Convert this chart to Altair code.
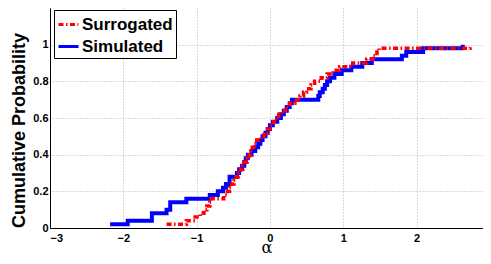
import altair as alt
import pandas as pd

series_names = ["Surrogated", "Simulated"]

surrogated = [
    -1.41, -1.14, -1.02, -0.95, -0.90, -0.86, -0.80, -0.82, -0.63, -0.58,
    -0.55, -0.52, -0.49, -0.46, -0.43, -0.40, -0.37, -0.35, -0.31, -0.28,
    -0.26, -0.24, -0.22, -0.18, -0.12, -0.08, -0.03, 0.00, 0.05, 0.09,
    0.12, 0.16, 0.21, 0.27, 0.34, 0.41, 0.46, 0.50, 0.56, 0.61,
    0.70, 0.78, 0.86, 0.95, 1.13, 1.32, 1.41, 1.46, 1.49, 2.73,
]

simulated = [
    -2.18, -1.94, -1.61, -1.61, -1.41, -1.36, -1.36, -1.14, -0.82, -0.71,
    -0.64, -0.60, -0.55, -0.55, -0.45, -0.42, -0.38, -0.35, -0.33, -0.30,
    -0.25, -0.20, -0.16, -0.13, -0.10, -0.06, -0.03, 0.00, 0.04, 0.10,
    0.15, 0.19, 0.23, 0.27, 0.30, 0.66, 0.68, 0.72, 0.75, 0.78,
    0.82, 0.88, 0.98, 1.11, 1.26, 1.39, 1.80, 1.86, 2.09, 2.63,
]

x_ticks = [-3, -2, -1, 0, 1, 2]
y_ticks = [0, 0.2, 0.4, 0.6, 0.8, 1]

df = pd.DataFrame({
    "alpha": surrogated + simulated,
    "series": ["Surrogated"] * len(surrogated) + ["Simulated"] * len(simulated),
})

color_scale = alt.Scale(domain=series_names, range=["#ff0000", "#0000ff"])
dash_scale = alt.Scale(domain=series_names, range=[[5, 2.5, 1.5, 2.5], [1, 0]])

legend = alt.Legend(
    orient="none", legendX=4, legendY=2, title=None,
    symbolType="stroke", symbolSize=400, symbolStrokeWidth=3,
    labelFontSize=17, labelFontWeight="bold", labelFont="Liberation Sans",
    labelColor="black", labelOffset=2,
    strokeColor="black", fillColor="white", padding=3, rowPadding=2,
)

x_enc = alt.X(
    "alpha:Q",
    scale=alt.Scale(domain=[-3, 2.907], nice=False, zero=False),
    axis=alt.Axis(values=x_ticks, title="α", grid=True, ticks=False,
                  labelPadding=4, titleFontWeight="normal", titleFontSize=16,
                  titleFont="DejaVu Serif", titleY=24, titleBaseline="alphabetic"),
)
y_enc = alt.Y(
    "p:Q",
    scale=alt.Scale(domain=[0, 1.2], nice=False),
    axis=alt.Axis(values=y_ticks, title="Cumulative Probability", format="~g",
                  grid=True, ticks=False, labelPadding=2,
                  titleFontSize=18, titleFontWeight="bold",
                  titleX=-31, titleY=122, titleBaseline="middle", titleAlign="center"),
)


def layer(name, width):
    return (
        alt.Chart(df)
        .transform_filter(alt.datum.series == name)
        .transform_window(cum="count()", sort=[alt.SortField("alpha")], frame=[None, 0])
        .transform_joinaggregate(total="count()")
        .transform_calculate(p="datum.cum / datum.total")
        .mark_line(interpolate="step-after", strokeWidth=width)
        .encode(
            x=x_enc,
            y=y_enc,
            color=alt.Color("series:N", scale=color_scale, legend=legend),
            strokeDash=alt.StrokeDash("series:N", scale=dash_scale, legend=legend),
        )
    )


chart = (
    alt.layer(layer("Simulated", 4), layer("Surrogated", 3.5))
    .properties(
        width=433, height=220,
        autosize=alt.AutoSizeParams(type="none"),
        padding={"left": 42, "top": 0, "right": 0, "bottom": 28},
        background="white",
    )
    .configure_view(stroke=None)
    .configure_axis(
        domainColor="black", domainWidth=1,
        gridColor="#b5b5b5", gridDash=[1, 2], gridWidth=1,
        labelFont="Liberation Sans", labelFontSize=11, labelFontWeight="bold",
        labelColor="black", titleFont="Liberation Sans", titleColor="black",
    )
)

chart.save("out.html", embed_options={"renderer": "svg", "actions": False})
